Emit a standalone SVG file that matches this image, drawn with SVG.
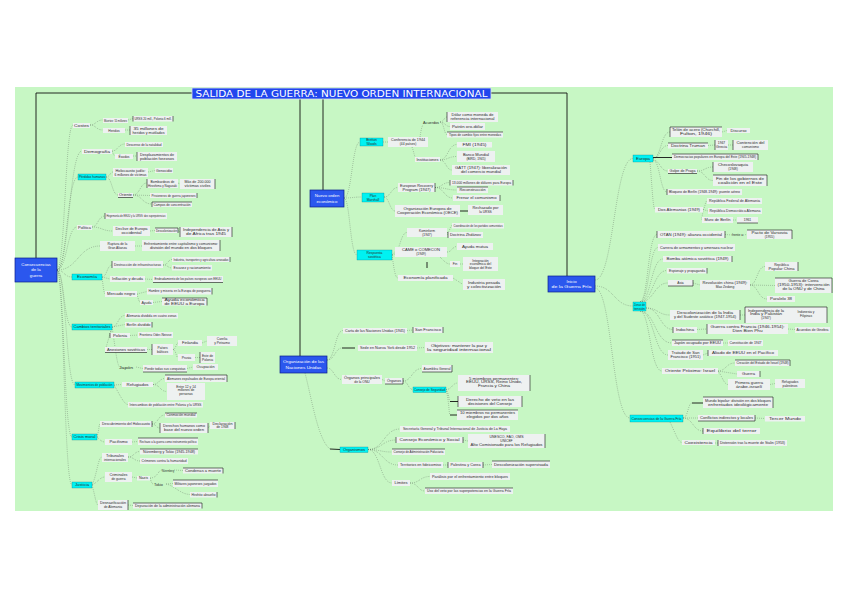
<svg xmlns="http://www.w3.org/2000/svg" width="848" height="599" viewBox="0 0 848 599">
<style>
.t{font-family:"Liberation Sans",Arial,sans-serif;font-size:3.3px;fill:#2a2a2a;text-anchor:middle}
.lb{font-family:"Liberation Sans",Arial,sans-serif;font-size:3.3px;fill:#2a2a2a}
.l{fill:#eef1f1}
.c{fill:#00f2f2;stroke:#078;stroke-width:.3}
.b{fill:#2b57ee;stroke:#0b1f8a;stroke-width:.7}
.bt{font-family:"Liberation Sans",Arial,sans-serif;font-size:4.3px;fill:#fff;text-anchor:middle}
.d{fill:none;stroke:#6a7a6a;stroke-width:.6;stroke-dasharray:.7 1.3}
.s{fill:none;stroke:#111;stroke-width:.9}
.k{fill:none;stroke:#111;stroke-width:.6}
</style>
<rect x="0" y="0" width="848" height="599" fill="#fff"/>
<rect x="15" y="87" width="818" height="424" fill="#c7f7c4"/>
<g id="connectors">
<path class="s" d="M36 93H192M491 93H567M36 93V258M300 99V356M323 99V190M567 93V276"/>
<path class="d" d="M57 270C65 270 65 125 73 125M57 270C69 270 69 151 82 151M57 270C67 270 67 177 78 177M57 270C67 270 67 227 77 227M57 270C78 270 78 246 100 246M57 270C64 270 64 277 72 277M57 270C64 270 64 327 72 327M57 270C66 270 66 385 75 385M57 270C64 270 64 437 72 437M57 270C64 270 64 485 72 485"/>
<path class="d" d="M90 125C96 125 96 120 103 120M90 125C96 125 96 130 103 130M128 120L133 118.5M125 130L130 130M112 151C118 151 118 144 125 144M112 151C113 153 114 156 115 156M133 156L137 156M106 177C110 177 110 172 113 172M106 177C112 177 112 195 118 195M148 172L155 170.5M133 195C140 195 140 183 147 183M133 195L150 195.5M133 195C142 195 142 204 152 204M178 183L180 184M92 227C98 227 98 216 105 216M92 227C102 227 102 231 113 231M150 231L155 230.5M178 230.5L180 232M135 246L142 246"/>
<path class="d" d="M102 277C107 277 107 265 112 265M102 277L110 279M102 277C103 285 104 294 105 294M163 265C168 265 168 259.5 172 259.5M163 265C168 265 168 268 172 268M145 279L153 279.5M137 294L147 291.5M137 294C138 298 139 302 140 302M153 302.5L162 301.5M112 327C118 327 118 315.5 125 315.5M112 327L125 324.5M112 327C111 331 110 335 110 335.5M112 327C108 340 106 349 105 349.5M130 335.5L138 335M147 349.5L152 349.5M173 349.5C176 349.5 176 343 178 343M173 349.5C176 349.5 176 357.5 178 357.5M202 343L207 341M195 357.5L200 357.5M112 327C115 345 117 367 120 367M136 367L143 368.5M187 368.5L193 367"/>
<path class="d" d="M114 385L122 384.5M114 385C120 395 124 404.5 128 404.5M153 384.5C159 384.5 159 378.5 165 378.5M153 384.5C160 384.5 160 391.5 167 391.5M97 437C99 430 99 424 100 424M97 437C100 440 102 442 105 442M152 424C158 424 158 415 165 415M152 424C156 424 156 428 160 428M208 428L210 425.5M132 442L138 441.5M92 485C97 475 98 457 102 457M92 485C98 482 100 477 105 477M92 485C95 495 96 505 98 505M128 457C134 457 134 451.5 140 451.5M128 457C134 457 134 461 140 461M132 477L137 478M150 478C158 478 158 470 162 470M150 478C151 481 152 484 153 484M174 470L183 470.5M166 484L173 483.5M166 484C175 486 180 494 190 494.5M128 505L133 505.5"/>
<path class="d" d="M344 198C352 198 352 142 360 142M344 198C353 198 353 197 362 197M344 198C350 198 350 255 357 255M383 142L388 142M420 137C421 130 422 126 423 125M440 122C444 122 444 117 447 117M440 122C445 122 445 126.5 450 126.5M440 122C444 122 444 134.5 447 134.5M412 147C414 152 414 156 416 158M440 160C448 160 448 144.5 457 144.5M440 160C448 160 448 156.5 457 156.5M440 160C446 160 446 170 452 170M384 197C391 197 391 187.5 398 187.5M384 197C389 197 390 211 395 211M435 187.5C442 187.5 442 182.5 450 182.5M435 187.5C446 187.5 446 190 457 190M435 187.5C444 187.5 444 198 453 198"/>
<path class="s" d="M460 211L468 211M427 262V268"/>
<path class="d" d="M392 255C400 255 400 232.5 407 232.5M392 255C394 253 394 252 395 252M392 255C394 268 395 278 398 278M447 232.5C450 232.5 450 225.5 452 225.5M447 232.5L448 235M447 252C452 252 452 246.5 457 246.5M440 257C445 262 447 264 450 264M460 264L463 264M453 278L463 284.5"/>
<path class="d" d="M327 360C335 360 335 330.5 343 330.5M327 360C335 360 335 348 342 348M327 368C334 368 334 379.5 342 379.5M305 373C312 400 318 440 330 449M407 330.5L413 330M417 348L425 347.5M382 379.5L385 381M403 381C412 381 412 368.5 422 368.5M403 381C408 381 408 389.5 413 389.5M446 389.5C452 389.5 452 383 458 383M446 389.5C449 393 449 401.5 450 401.5M446 389.5C449 400 449 415 450 415"/>
<path class="s" d="M342 348L355 348M450 401.5L458 401.5M450 415L457 415M330 449L340 449.5M358 449.5L366 449.5"/>
<path class="d" d="M368 449.5C384 449.5 384 429 400 429M368 449.5C382 449.5 382 440 396 440M368 449.5C380 449.5 380 452 392 452M368 449.5C383 449.5 383 465 398 465M368 449.5C380 449.5 380 483 392 483M463 440L468 441M443 465L448 465M483 465L492 464.5M410 483C420 483 420 476.5 430 476.5M410 483C418 483 418 491 425 491"/>
<path class="d" d="M595 280C614 280 614 158.5 633 158.5M595 286C614 286 614 306 633 306M595 288C612 288 612 418 630 418"/>
<path class="d" d="M653 158.5C661 158.5 661 132 670 132M653 158.5C660 158.5 660 145.5 668 145.5M653 160C660 160 660 171 668 171M653 160C660 160 660 192 667 192M650 162C652 185 653 209.5 655 209.5M722 132L727 130.5M708 145.5L715 145M728 145L733 145M697 171C705 171 705 167 713 167M697 171C705 171 705 180.5 713 180.5M703 209.5C705 209.5 705 201 707 201M703 209.5L708 211M703 209.5C703 214 701 220 702 220M733 220L737 220"/>
<path class="s" d="M653 157.5L672 157.5M692 403L703 403"/>
<path class="d" d="M640 302C648 302 648 234.5 657 234.5M640 302C649 302 649 247.5 658 247.5M640 302C651 302 651 259 663 259M640 302C653 302 653 270.5 667 270.5M640 302C654 302 654 283 668 283M646 308C658 308 658 315 670 315M646 308C660 308 660 329.5 673 329.5M640 311C655 311 655 343 672 343M640 311C654 311 654 355 668 355M640 311C650 311 650 371 662 371M725 234.5L732 235M743 235L747 234.5M693 283L700 285M750 285C757 285 757 266.5 765 266.5M750 285L775 285.5M750 285C758 285 758 299 767 299M740 315L745 315M697 329.5L707 329M788 329L795 329.5M723 343L728 343M703 355L708 353M718 371C726 371 726 363 735 363M718 371L737 374M718 371C722 376 724 384.5 728 384.5M770 384.5L775 383.5"/>
<path class="d" d="M683 418C688 418 688 403 692 403M683 418L698 418M683 418C693 418 693 431 703 431M670 422C675 432 678 442.5 682 442.5M755 418L765 418.5M715 443L718 443"/>
</g>
<g id="title"><rect x="192" y="88" width="299" height="11" fill="#2146ee" stroke="#dde" stroke-width=".8"/><text x="341.5" y="97" font-family="DejaVu Sans,sans-serif" font-size="9" fill="#fff" text-anchor="middle" textLength="292" lengthAdjust="spacingAndGlyphs">SALIDA DE LA GUERRA: NUEVO ORDEN INTERNACIONAL</text></g>
<g id="n-left"><rect class="b" x="15" y="258" width="42" height="24"/><text class="bt" x="36" y="265.5">Consecuencias</text><text class="bt" x="36" y="271">de la</text><text class="bt" x="36" y="276.5">guerra</text></g>
<g id="P1"><rect class="l" x="73" y="123" width="17" height="5"/><text class="t" x="81.5" y="126.6" textLength="15" lengthAdjust="spacingAndGlyphs">Costes</text></g>
<g id="P2"><rect class="l" x="82" y="149" width="30" height="5"/><text class="t" x="97" y="152.6" textLength="26" lengthAdjust="spacingAndGlyphs">Demografía</text></g>
<g id="P3"><rect class="l" x="77" y="225" width="15" height="5"/><text class="t" x="84.5" y="228.6" textLength="13" lengthAdjust="spacingAndGlyphs">Política</text></g>
<g id="P4"><rect class="l" x="100" y="241" width="35" height="10"/><text class="t" x="117.5" y="245.3">Ruptura de la</text><text class="t" x="117.5" y="249.1">Gran Alianza</text></g>
<g id="CL1"><rect class="c" x="78" y="174" width="28" height="6"/><text class="t" x="92" y="178.1" textLength="26" lengthAdjust="spacingAndGlyphs">Pérdidas humanas</text></g>
<g id="CL2"><rect class="c" x="72" y="274" width="30" height="6"/><text class="t" x="87" y="278.1" textLength="20" lengthAdjust="spacingAndGlyphs">Economía</text></g>
<g id="CL3"><rect class="c" x="72" y="324" width="40" height="6"/><text class="t" x="92" y="328.1" textLength="37" lengthAdjust="spacingAndGlyphs">Cambios territoriales</text></g>
<g id="CL4"><rect class="c" x="75" y="382" width="39" height="6"/><text class="t" x="94.5" y="386.1" textLength="36" lengthAdjust="spacingAndGlyphs">Movimientos de población</text></g>
<g id="CL5"><rect class="c" x="72" y="434" width="25" height="6"/><text class="t" x="84.5" y="438.1" textLength="22" lengthAdjust="spacingAndGlyphs">Crisis moral</text></g>
<g id="CL6"><rect class="c" x="72" y="482" width="20" height="6"/><text class="t" x="82" y="486.1" textLength="14" lengthAdjust="spacingAndGlyphs">Justicia</text></g>
<g id="lb1"><rect class="l" x="103" y="118" width="25" height="5"/><text class="t" x="115.5" y="121.6" textLength="23" lengthAdjust="spacingAndGlyphs">Muertos: 55 millones</text></g>
<g id="lb2"><rect class="l" x="133" y="116" width="40" height="5.5"/><path class="k" d="M173 116V121.5M133 116V121.5"/><text class="t" x="153" y="119.9" textLength="37" lengthAdjust="spacingAndGlyphs">URSS 20 mill., Polonia 6 mill.</text></g>
<g id="lb3"><rect class="l" x="103" y="128" width="22" height="5"/><text class="t" x="114" y="131.6">Heridos</text></g>
<g id="lb4"><rect class="l" x="130" y="126" width="37" height="9"/><path class="k" d="M130 126V135"/><text class="t" x="148.5" y="129.8" textLength="30" lengthAdjust="spacingAndGlyphs">35 millones de</text><text class="t" x="148.5" y="133.6" textLength="32" lengthAdjust="spacingAndGlyphs">heridos y mutilados</text></g>
<g id="lb5"><rect class="l" x="125" y="142" width="38" height="5"/><text class="t" x="144" y="145.6" textLength="35" lengthAdjust="spacingAndGlyphs">Descenso de la natalidad</text></g>
<g id="lb6"><rect class="l" x="115" y="154" width="18" height="5"/><text class="t" x="124" y="157.6">Éxodos</text></g>
<g id="lb7"><rect class="l" x="137" y="152" width="40" height="9"/><path class="k" d="M137 152V161"/><text class="t" x="157" y="155.8" textLength="34" lengthAdjust="spacingAndGlyphs">Desplazamientos de</text><text class="t" x="157" y="159.6" textLength="34" lengthAdjust="spacingAndGlyphs">población forzosos</text></g>
<g id="lb8"><rect class="l" x="113" y="168" width="35" height="9"/><text class="t" x="130.5" y="171.8" textLength="30" lengthAdjust="spacingAndGlyphs">Holocausto judío:</text><text class="t" x="130.5" y="175.6" textLength="32" lengthAdjust="spacingAndGlyphs">6 millones de víctimas</text></g>
<g id="lb9"><rect class="l" x="155" y="168" width="18" height="5"/><text class="t" x="164" y="171.6" textLength="16" lengthAdjust="spacingAndGlyphs">Genocidio</text></g>
<g id="lb10"><rect class="l" x="118" y="193" width="15" height="4.5"/><path class="k" d="M118 197.5H133"/><text class="t" x="125.5" y="196.4" textLength="13" lengthAdjust="spacingAndGlyphs">Oriente</text></g>
<g id="lb11"><rect class="l" x="147" y="179" width="31" height="9"/><path class="k" d="M147 179V188"/><text class="t" x="162.5" y="182.8" textLength="24" lengthAdjust="spacingAndGlyphs">Bombardeos de</text><text class="t" x="162.5" y="186.6" textLength="29" lengthAdjust="spacingAndGlyphs">Hiroshima y Nagasaki</text></g>
<g id="lb12"><rect class="l" x="180" y="179" width="35" height="10"/><path class="k" d="M215 179V189"/><text class="t" x="197.5" y="183.3" textLength="26" lengthAdjust="spacingAndGlyphs">Más de 200.000</text><text class="t" x="197.5" y="187.1" textLength="26" lengthAdjust="spacingAndGlyphs">víctimas civiles</text></g>
<g id="lb13"><rect class="l" x="150" y="193" width="47" height="5"/><path class="k" d="M197 193V198"/><text class="t" x="173.5" y="196.6" textLength="44" lengthAdjust="spacingAndGlyphs">Prisioneros de guerra japoneses</text></g>
<g id="lb14"><rect class="l" x="152" y="202" width="40" height="5"/><path class="k" d="M152 202H192M152 202V207"/><text class="t" x="172" y="205.6" textLength="37" lengthAdjust="spacingAndGlyphs">Campos de concentración</text></g>
<g id="lp1"><rect class="l" x="105" y="213" width="62" height="6"/><path class="k" d="M105 213V219"/><text class="t" x="136" y="217.1" textLength="59" lengthAdjust="spacingAndGlyphs">Hegemonía de EEUU y la URSS: dos superpotencias</text></g>
<g id="lp2"><rect class="l" x="113" y="226" width="37" height="10"/><text class="t" x="131.5" y="230.3" textLength="32" lengthAdjust="spacingAndGlyphs">Declive de Europa</text><text class="t" x="131.5" y="234.1" textLength="20" lengthAdjust="spacingAndGlyphs">occidental</text></g>
<g id="lp3"><rect class="l" x="155" y="228" width="23" height="5"/><path class="k" d="M155 228H178V233"/><text class="t" x="166.5" y="231.6" textLength="21" lengthAdjust="spacingAndGlyphs">Descolonización</text></g>
<g id="lp4"><rect class="l" x="180" y="227" width="52" height="10"/><path class="k" d="M180 227V237M232 227V237"/><text class="t" x="206" y="231.3" textLength="46" lengthAdjust="spacingAndGlyphs">Independencia de Asia y</text><text class="t" x="206" y="235.1" textLength="40" lengthAdjust="spacingAndGlyphs">de África tras 1945</text></g>
<g id="lp5"><rect class="l" x="142" y="240" width="78" height="11"/><path class="k" d="M220 240V251"/><text class="t" x="181" y="244.8" textLength="74" lengthAdjust="spacingAndGlyphs">Enfrentamiento entre capitalismo y comunismo:</text><text class="t" x="181" y="248.6" textLength="62" lengthAdjust="spacingAndGlyphs">división del mundo en dos bloques</text></g>
<g id="le1"><rect class="l" x="112" y="261" width="51" height="7"/><path class="k" d="M112 261V268"/><text class="t" x="137.5" y="265.6" textLength="47" lengthAdjust="spacingAndGlyphs">Destrucción de infraestructuras</text></g>
<g id="le2"><rect class="l" x="172" y="257" width="58" height="5"/><path class="k" d="M230 257V262"/><text class="t" x="201" y="260.6" textLength="55" lengthAdjust="spacingAndGlyphs">Industria, transportes y agricultura arrasadas</text></g>
<g id="le3"><rect class="l" x="172" y="265" width="40" height="5.5"/><text class="t" x="192" y="268.9" textLength="37" lengthAdjust="spacingAndGlyphs">Escasez y racionamiento</text></g>
<g id="le4"><rect class="l" x="110" y="276" width="35" height="6"/><text class="t" x="127.5" y="280.1" textLength="31" lengthAdjust="spacingAndGlyphs">Inflación y deuda</text></g>
<g id="le5"><rect class="l" x="153" y="276" width="70" height="6.5"/><path class="k" d="M153 282.5H223"/><text class="t" x="188" y="280.4" textLength="67" lengthAdjust="spacingAndGlyphs">Endeudamiento de los países europeos con EEUU</text></g>
<g id="le6"><rect class="l" x="105" y="291" width="32" height="6"/><text class="t" x="121" y="295.1" textLength="28" lengthAdjust="spacingAndGlyphs">Mercado negro</text></g>
<g id="le7"><rect class="l" x="147" y="288" width="65" height="6.5"/><path class="k" d="M212 288V294.5"/><text class="t" x="179.5" y="292.4" textLength="62" lengthAdjust="spacingAndGlyphs">Hambre y miseria en la Europa de posguerra</text></g>
<g id="le8"><rect class="l" x="140" y="300" width="13" height="5"/><text class="t" x="146.5" y="303.6" textLength="10" lengthAdjust="spacingAndGlyphs">Ayuda</text></g>
<g id="le9"><rect class="l" x="162" y="298" width="45" height="7.5"/><path class="k" d="M162 298H207V305.5"/><text class="t" x="184.5" y="301.1" textLength="40" lengthAdjust="spacingAndGlyphs">Ayuda económica</text><text class="t" x="184.5" y="304.9" textLength="40" lengthAdjust="spacingAndGlyphs">de EEUU a Europa</text></g>
<g id="lt1"><rect class="l" x="125" y="313" width="53" height="5.5"/><text class="t" x="151.5" y="316.9" textLength="50" lengthAdjust="spacingAndGlyphs">Alemania dividida en cuatro zonas</text></g>
<g id="lt2"><rect class="l" x="125" y="322" width="27" height="5.5"/><path class="k" d="M152 322V327.5"/><text class="t" x="138.5" y="325.9" textLength="24" lengthAdjust="spacingAndGlyphs">Berlín dividido</text></g>
<g id="lt3"><rect class="l" x="110" y="333" width="20" height="5"/><path class="k" d="M110 333V338"/><text class="t" x="120" y="336.6" textLength="14" lengthAdjust="spacingAndGlyphs">Polonia</text></g>
<g id="lt4"><rect class="l" x="138" y="332" width="35" height="6"/><text class="t" x="155.5" y="336.1" textLength="32" lengthAdjust="spacingAndGlyphs">Frontera Oder-Neisse</text></g>
<g id="lt5"><rect class="l" x="105" y="347" width="42" height="5.5"/><path class="k" d="M105 352.5H147"/><text class="t" x="126" y="350.9" textLength="38" lengthAdjust="spacingAndGlyphs">Anexiones soviéticas</text></g>
<g id="lt6"><rect class="l" x="152" y="344" width="21" height="11"/><path class="k" d="M152 344V355"/><text class="t" x="162.5" y="348.8">Países</text><text class="t" x="162.5" y="352.6">bálticos</text></g>
<g id="lt7"><rect class="l" x="178" y="340" width="24" height="6"/><text class="t" x="190" y="344.1" textLength="16" lengthAdjust="spacingAndGlyphs">Finlandia</text></g>
<g id="lt8"><rect class="l" x="207" y="336" width="30" height="10"/><text class="t" x="222" y="340.3">Carelia</text><text class="t" x="222" y="344.1">y Petsamo</text></g>
<g id="lt9"><rect class="l" x="178" y="354" width="17" height="7"/><text class="t" x="186.5" y="358.6">Prusia</text></g>
<g id="lt10"><rect class="l" x="200" y="352" width="15" height="11"/><path class="k" d="M200 352V363"/><text class="t" x="207.5" y="356.8">Este de</text><text class="t" x="207.5" y="360.6">Polonia</text></g>
<g id="lt-jp"><text class="lb" x="119" y="368.5" textLength="14" lengthAdjust="spacingAndGlyphs">Japón</text></g>
<g id="lt11"><rect class="l" x="143" y="365" width="44" height="7"/><path class="k" d="M143 372H187"/><text class="t" x="165" y="369.6" textLength="41" lengthAdjust="spacingAndGlyphs">Pierde todas sus conquistas</text></g>
<g id="lt12"><rect class="l" x="193" y="364" width="25" height="6"/><text class="t" x="205.5" y="368.1" textLength="18" lengthAdjust="spacingAndGlyphs">Ocupación</text></g>
<g id="lm1"><rect class="l" x="122" y="382" width="31" height="5"/><text class="t" x="137.5" y="385.6" textLength="22" lengthAdjust="spacingAndGlyphs">Refugiados</text></g>
<g id="lm2"><rect class="l" x="165" y="375" width="62" height="7"/><path class="k" d="M165 375H227V382"/><text class="t" x="196" y="379.6" textLength="58" lengthAdjust="spacingAndGlyphs">Alemanes expulsados de Europa oriental</text></g>
<g id="lm3"><rect class="l" x="167" y="383" width="38" height="17"/><text class="t" x="186" y="387.5">Entre 12 y 14</text><text class="t" x="186" y="391.3">millones de</text><text class="t" x="186" y="395.1">personas</text></g>
<g id="lm4"><rect class="l" x="128" y="402" width="75" height="5.5"/><text class="t" x="165.5" y="405.9" textLength="72" lengthAdjust="spacingAndGlyphs">Intercambios de población entre Polonia y la URSS</text></g>
<g id="lc1"><rect class="l" x="100" y="421" width="52" height="6"/><path class="k" d="M152 421V427"/><text class="t" x="126" y="425.1" textLength="48" lengthAdjust="spacingAndGlyphs">Descubrimiento del Holocausto</text></g>
<g id="lc2"><rect class="l" x="165" y="413" width="32" height="4.5"/><path class="k" d="M165 413H197"/><text class="t" x="181" y="416.4" textLength="29" lengthAdjust="spacingAndGlyphs">Conmoción mundial</text></g>
<g id="lc3"><rect class="l" x="160" y="423" width="48" height="10"/><path class="k" d="M160 423V433M208 423V433"/><text class="t" x="184" y="427.3" textLength="42" lengthAdjust="spacingAndGlyphs">Derechos humanos como</text><text class="t" x="184" y="431.1" textLength="40" lengthAdjust="spacingAndGlyphs">base del nuevo orden</text></g>
<g id="lc4"><rect class="l" x="210" y="422" width="25" height="7"/><path class="k" d="M235 422V429"/><text class="t" x="222.5" y="424.8" textLength="20" lengthAdjust="spacingAndGlyphs">Declaración</text><text class="t" x="222.5" y="428.3">de 1948</text></g>
<g id="lc5"><rect class="l" x="105" y="439" width="27" height="6"/><text class="t" x="118.5" y="443.1" textLength="18" lengthAdjust="spacingAndGlyphs">Pacifismo</text></g>
<g id="lc6"><rect class="l" x="138" y="438" width="60" height="7"/><path class="k" d="M138 438H198"/><text class="t" x="168" y="442.6" textLength="57" lengthAdjust="spacingAndGlyphs">Rechazo a la guerra como instrumento político</text></g>
<g id="lj1"><rect class="l" x="102" y="453" width="26" height="9"/><text class="t" x="115" y="456.8" textLength="18" lengthAdjust="spacingAndGlyphs">Tribunales</text><text class="t" x="115" y="460.6" textLength="22" lengthAdjust="spacingAndGlyphs">internacionales</text></g>
<g id="lj2"><rect class="l" x="140" y="449" width="58" height="5.5"/><path class="k" d="M140 449H198"/><text class="t" x="169" y="452.9" textLength="52" lengthAdjust="spacingAndGlyphs">Núremberg y Tokio (1945-1948)</text></g>
<g id="lj3"><rect class="l" x="140" y="458" width="48" height="6"/><text class="t" x="164" y="462.1" textLength="45" lengthAdjust="spacingAndGlyphs">Crímenes contra la humanidad</text></g>
<g id="lj4"><rect class="l" x="105" y="472" width="27" height="10"/><text class="t" x="118.5" y="476.3" textLength="18" lengthAdjust="spacingAndGlyphs">Criminales</text><text class="t" x="118.5" y="480.1">de guerra</text></g>
<g id="lj5"><rect class="l" x="137" y="476" width="13" height="4.5"/><text class="t" x="143.5" y="479.4" textLength="9" lengthAdjust="spacingAndGlyphs">Nazis</text></g>
<g id="lj-nu"><text class="lb" x="162" y="471.5" textLength="12" lengthAdjust="spacingAndGlyphs">Núremberg</text></g>
<g id="lj6"><rect class="l" x="183" y="468" width="40" height="5.5"/><path class="k" d="M183 468H223V473.5"/><text class="t" x="203" y="471.9" textLength="36" lengthAdjust="spacingAndGlyphs">Condenas a muerte</text></g>
<g id="lj-to"><text class="lb" x="154" y="486" textLength="9" lengthAdjust="spacingAndGlyphs">Tokio</text></g>
<g id="lj7"><rect class="l" x="173" y="480" width="45" height="7"/><path class="k" d="M173 480H218"/><text class="t" x="195.5" y="484.6" textLength="42" lengthAdjust="spacingAndGlyphs">Militares japoneses juzgados</text></g>
<g id="lj8"><rect class="l" x="190" y="492" width="27" height="5.5"/><path class="k" d="M217 492V497.5"/><text class="t" x="203.5" y="495.9" textLength="24" lengthAdjust="spacingAndGlyphs">Hirohito absuelto</text></g>
<g id="lj9"><rect class="l" x="98" y="500" width="30" height="10"/><path class="k" d="M128 500V510"/><text class="t" x="113" y="504.3" textLength="26" lengthAdjust="spacingAndGlyphs">Desnazificación</text><text class="t" x="113" y="508.1">de Alemania</text></g>
<g id="lj10"><rect class="l" x="133" y="503" width="69" height="5.5"/><path class="k" d="M133 503H202V508.5"/><text class="t" x="167.5" y="506.9" textLength="65" lengthAdjust="spacingAndGlyphs">Depuración de la administración alemana</text></g>
<g id="n-econ"><rect class="b" x="310" y="190" width="34" height="17"/><text class="bt" x="327" y="197">Nuevo orden</text><text class="bt" x="327" y="202.5">económico</text></g>
<g id="cB"><rect class="c" x="360" y="138" width="23" height="8"/><text class="t" x="371.5" y="141.4">Bretton</text><text class="t" x="371.5" y="145.2">Woods</text></g>
<g id="mt1"><rect class="l" x="388" y="137" width="40" height="10"/><text class="t" x="408" y="141.3" textLength="34" lengthAdjust="spacingAndGlyphs">Conferencia de 1944</text><text class="t" x="408" y="145.1">(44 países)</text></g>
<g id="mt-ac"><text class="lb" x="423" y="123.5" textLength="16" lengthAdjust="spacingAndGlyphs">Acuerdos</text></g>
<g id="mt2"><rect class="l" x="447" y="112" width="51" height="10"/><path class="k" d="M447 112V122"/><text class="t" x="472.5" y="116.3" textLength="42" lengthAdjust="spacingAndGlyphs">Dólar como moneda de</text><text class="t" x="472.5" y="120.1" textLength="44" lengthAdjust="spacingAndGlyphs">referencia internacional</text></g>
<g id="mt3"><rect class="l" x="450" y="123" width="35" height="7"/><text class="t" x="467.5" y="127.6" textLength="31" lengthAdjust="spacingAndGlyphs">Patrón oro-dólar</text></g>
<g id="mt4"><rect class="l" x="447" y="132" width="56" height="5.5"/><path class="k" d="M447 132H503"/><text class="t" x="475" y="135.9" textLength="52" lengthAdjust="spacingAndGlyphs">Tipos de cambio fijos entre monedas</text></g>
<g id="mt-in"><rect class="l" x="415" y="157" width="25" height="5"/><text class="t" x="427.5" y="160.6" textLength="22" lengthAdjust="spacingAndGlyphs">Instituciones</text></g>
<g id="mt5"><rect class="l" x="457" y="142" width="35" height="5.5"/><text class="t" x="474.5" y="145.9" textLength="24" lengthAdjust="spacingAndGlyphs">FMI (1945)</text></g>
<g id="mt6"><rect class="l" x="457" y="151" width="38" height="11"/><text class="t" x="476" y="155.8" textLength="26" lengthAdjust="spacingAndGlyphs">Banco Mundial</text><text class="t" x="476" y="159.6">(BIRD, 1945)</text></g>
<g id="mt7"><rect class="l" x="452" y="165" width="58" height="10"/><text class="t" x="481" y="169.3" textLength="52" lengthAdjust="spacingAndGlyphs">GATT (1947): liberalización</text><text class="t" x="481" y="173.1" textLength="40" lengthAdjust="spacingAndGlyphs">del comercio mundial</text></g>
<g id="cP"><rect class="c" x="362" y="193" width="22" height="9"/><text class="t" x="373" y="196.8">Plan</text><text class="t" x="373" y="200.6">Marshall</text></g>
<g id="mt8"><rect class="l" x="398" y="183" width="37" height="9"/><path class="k" d="M435 183V192"/><text class="t" x="416.5" y="186.8" textLength="33" lengthAdjust="spacingAndGlyphs">European Recovery</text><text class="t" x="416.5" y="190.6" textLength="28" lengthAdjust="spacingAndGlyphs">Program (1947)</text></g>
<g id="mt9"><rect class="l" x="450" y="180" width="63" height="5.5"/><path class="k" d="M450 180V185.5M513 180V185.5"/><text class="t" x="481.5" y="183.9" textLength="59" lengthAdjust="spacingAndGlyphs">13.000 millones de dólares para Europa</text></g>
<g id="mt10"><rect class="l" x="457" y="187" width="31" height="6"/><path class="k" d="M457 187H488"/><text class="t" x="472.5" y="191.1" textLength="26" lengthAdjust="spacingAndGlyphs">Reconstrucción</text></g>
<g id="mt11"><rect class="l" x="453" y="195" width="47" height="6"/><path class="k" d="M500 195V201"/><text class="t" x="476.5" y="199.1" textLength="40" lengthAdjust="spacingAndGlyphs">Frenar el comunismo</text></g>
<g id="mt12"><rect class="l" x="395" y="205" width="65" height="12"/><text class="t" x="427.5" y="209.8" textLength="48" lengthAdjust="spacingAndGlyphs">Organización Europea de</text><text class="t" x="427.5" y="213.6" textLength="61" lengthAdjust="spacingAndGlyphs">Cooperación Económica (OECE)</text></g>
<g id="mt13"><rect class="l" x="468" y="205" width="35" height="10"/><text class="t" x="485.5" y="209.3" textLength="26" lengthAdjust="spacingAndGlyphs">Rechazado por</text><text class="t" x="485.5" y="213.1">la URSS</text></g>
<g id="cR"><rect class="c" x="357" y="250" width="35" height="10"/><text class="t" x="374.5" y="254.3">Respuesta</text><text class="t" x="374.5" y="258.1">soviética</text></g>
<g id="mt14"><rect class="l" x="407" y="228" width="40" height="9"/><text class="t" x="427" y="231.8">Kominform</text><text class="t" x="427" y="235.6">(1947)</text></g>
<g id="mt15"><rect class="l" x="452" y="223" width="52" height="5.5"/><text class="t" x="478" y="226.9" textLength="49" lengthAdjust="spacingAndGlyphs">Coordinación de los partidos comunistas</text></g>
<g id="mt16"><rect class="l" x="448" y="232" width="35" height="6"/><path class="k" d="M448 232V238"/><text class="t" x="465.5" y="236.1" textLength="31" lengthAdjust="spacingAndGlyphs">Doctrina Zhdánov</text></g>
<g id="mt17"><rect class="l" x="395" y="247" width="52" height="10"/><text class="t" x="421" y="251.3" textLength="38" lengthAdjust="spacingAndGlyphs">CAME o COMECON</text><text class="t" x="421" y="255.1">(1949)</text></g>
<g id="mt18"><rect class="l" x="457" y="243" width="36" height="7"/><text class="t" x="475" y="247.6" textLength="26" lengthAdjust="spacingAndGlyphs">Ayuda mutua</text></g>
<g id="mt19"><rect class="l" x="450" y="261" width="10" height="6"/><text class="t" x="455" y="265.1">Fin</text></g>
<g id="mt20"><rect class="l" x="463" y="257" width="35" height="14"/><text class="t" x="480.5" y="261.5">Integración</text><text class="t" x="480.5" y="265.3">económica del</text><text class="t" x="480.5" y="269.1">bloque del Este</text></g>
<g id="mt21"><rect class="l" x="398" y="275" width="55" height="6"/><text class="t" x="425.5" y="279.1" textLength="44" lengthAdjust="spacingAndGlyphs">Economía planificada</text></g>
<g id="mt22"><rect class="l" x="463" y="279" width="42" height="11"/><text class="t" x="484" y="283.8" textLength="32" lengthAdjust="spacingAndGlyphs">Industria pesada</text><text class="t" x="484" y="287.6" textLength="34" lengthAdjust="spacingAndGlyphs">y colectivización</text></g>
<g id="n-onu"><rect class="b" x="280" y="356" width="47" height="17"/><text class="bt" x="303.5" y="363" textLength="41" lengthAdjust="spacingAndGlyphs">Organización de las</text><text class="bt" x="303.5" y="368.5" textLength="36" lengthAdjust="spacingAndGlyphs">Naciones Unidas</text></g>
<g id="mb1"><rect class="l" x="343" y="328" width="64" height="5.5"/><text class="t" x="375" y="331.9" textLength="60" lengthAdjust="spacingAndGlyphs">Carta de las Naciones Unidas (1945)</text></g>
<g id="mb2"><rect class="l" x="413" y="327" width="30" height="6"/><path class="k" d="M413 327V333M443 327V333"/><text class="t" x="428" y="331.1" textLength="26" lengthAdjust="spacingAndGlyphs">San Francisco</text></g>
<g id="mb3"><rect class="l" x="358" y="345" width="59" height="6"/><text class="t" x="387.5" y="349.1" textLength="55" lengthAdjust="spacingAndGlyphs">Sede en Nueva York desde 1952</text></g>
<g id="mb4"><rect class="l" x="425" y="342" width="68" height="11"/><text class="t" x="459" y="346.8" textLength="56" lengthAdjust="spacingAndGlyphs">Objetivos: mantener la paz y</text><text class="t" x="459" y="350.6" textLength="64" lengthAdjust="spacingAndGlyphs">la seguridad internacional</text></g>
<g id="mb5"><rect class="l" x="342" y="375" width="40" height="9"/><text class="t" x="362" y="378.8" textLength="36" lengthAdjust="spacingAndGlyphs">Órganos principales</text><text class="t" x="362" y="382.6">de la ONU</text></g>
<g id="mb6"><rect class="l" x="385" y="378" width="18" height="6"/><path class="k" d="M385 384H403V378"/><text class="t" x="394" y="382.1" textLength="14" lengthAdjust="spacingAndGlyphs">Órganos</text></g>
<g id="mb7"><rect class="l" x="422" y="365" width="30" height="7"/><path class="k" d="M422 372H452V365"/><text class="t" x="437" y="369.6" textLength="27" lengthAdjust="spacingAndGlyphs">Asamblea General</text></g>
<g id="cS"><rect class="c" x="413" y="387" width="33" height="5.5"/><text class="t" x="429.5" y="390.9" textLength="31" lengthAdjust="spacingAndGlyphs">Consejo de Seguridad</text></g>
<g id="mb8"><rect class="l" x="458" y="375" width="72" height="16"/><path class="k" d="M530 375V391"/><text class="t" x="494" y="379.5" textLength="50" lengthAdjust="spacingAndGlyphs">5 miembros permanentes:</text><text class="t" x="494" y="383.3" textLength="56" lengthAdjust="spacingAndGlyphs">EEUU, URSS, Reino Unido,</text><text class="t" x="494" y="387.1" textLength="32" lengthAdjust="spacingAndGlyphs">Francia y China</text></g>
<g id="mb9"><rect class="l" x="458" y="396" width="64" height="11"/><path class="k" d="M458 396V407M522 396V407"/><text class="t" x="490" y="400.8" textLength="48" lengthAdjust="spacingAndGlyphs">Derecho de veto en las</text><text class="t" x="490" y="404.6" textLength="44" lengthAdjust="spacingAndGlyphs">decisiones del Consejo</text></g>
<g id="mb10"><rect class="l" x="457" y="410" width="61" height="10"/><path class="k" d="M457 410H518"/><text class="t" x="487.5" y="414.3" textLength="55" lengthAdjust="spacingAndGlyphs">10 miembros no permanentes</text><text class="t" x="487.5" y="418.1" textLength="42" lengthAdjust="spacingAndGlyphs">elegidos por dos años</text></g>
<g id="cO"><rect class="c" x="340" y="447" width="28" height="5.5"/><text class="t" x="354" y="450.9" textLength="22" lengthAdjust="spacingAndGlyphs">Organismos</text></g>
<g id="mb11"><rect class="l" x="400" y="426" width="110" height="6"/><text class="t" x="455" y="430.1" textLength="104" lengthAdjust="spacingAndGlyphs">Secretaría General y Tribunal Internacional de Justicia de La Haya</text></g>
<g id="mb12"><rect class="l" x="396" y="437" width="67" height="6"/><path class="k" d="M396 437V443M463 437V443"/><text class="t" x="429.5" y="441.1" textLength="60" lengthAdjust="spacingAndGlyphs">Consejo Económico y Social</text></g>
<g id="mb13"><rect class="l" x="468" y="434" width="77" height="14"/><path class="k" d="M545 434V448"/><text class="t" x="506.5" y="438.2" textLength="34" lengthAdjust="spacingAndGlyphs">UNESCO, FAO, OMS</text><text class="t" x="506.5" y="442">UNICEF</text><text class="t" x="506.5" y="445.8" textLength="72" lengthAdjust="spacingAndGlyphs">Alto Comisionado para los Refugiados</text></g>
<g id="mb14"><rect class="l" x="392" y="449" width="53" height="6"/><path class="k" d="M392 449H445"/><text class="t" x="418.5" y="453.1" textLength="50" lengthAdjust="spacingAndGlyphs">Consejo de Administración Fiduciaria</text></g>
<g id="mb15"><rect class="l" x="398" y="462" width="45" height="6"/><text class="t" x="420.5" y="466.1" textLength="41" lengthAdjust="spacingAndGlyphs">Territorios en fideicomiso</text></g>
<g id="mb16"><rect class="l" x="448" y="462" width="35" height="6"/><path class="k" d="M448 462V468M483 462V468"/><text class="t" x="465.5" y="466.1" textLength="30" lengthAdjust="spacingAndGlyphs">Palestina y Corea</text></g>
<g id="mb17"><rect class="l" x="492" y="461" width="58" height="7"/><path class="k" d="M492 461H550"/><text class="t" x="521" y="465.6" textLength="54" lengthAdjust="spacingAndGlyphs">Descolonización supervisada</text></g>
<g id="mb18"><rect class="l" x="392" y="480" width="18" height="6"/><text class="t" x="401" y="484.1" textLength="13" lengthAdjust="spacingAndGlyphs">Límites</text></g>
<g id="mb19"><rect class="l" x="430" y="473" width="80" height="7"/><text class="t" x="470" y="477.6" textLength="76" lengthAdjust="spacingAndGlyphs">Parálisis por el enfrentamiento entre bloques</text></g>
<g id="mb20"><rect class="l" x="425" y="488" width="88" height="6"/><path class="k" d="M425 488H513"/><text class="t" x="469" y="492.1" textLength="84" lengthAdjust="spacingAndGlyphs">Uso del veto por las superpotencias en la Guerra Fría</text></g>
<g id="n-gf"><rect class="b" x="548" y="276" width="47" height="16"/><text class="bt" x="571.5" y="282.6">Inicio</text><text class="bt" x="571.5" y="288" textLength="40" lengthAdjust="spacingAndGlyphs">de la Guerra Fría</text></g>
<g id="cE"><rect class="c" x="633" y="155" width="20" height="7"/><text class="t" x="643" y="159.6" textLength="14" lengthAdjust="spacingAndGlyphs">Europa</text></g>
<g id="re1"><rect class="l" x="670" y="127" width="52" height="10"/><path class="k" d="M670 137V127H722"/><text class="t" x="696" y="131.3" textLength="48" lengthAdjust="spacingAndGlyphs">Telón de acero (Churchill,</text><text class="t" x="696" y="135.1" textLength="32" lengthAdjust="spacingAndGlyphs">Fulton, 1946)</text></g>
<g id="re2"><rect class="l" x="727" y="128" width="23" height="5"/><text class="t" x="738.5" y="131.6" textLength="16" lengthAdjust="spacingAndGlyphs">Discurso</text></g>
<g id="re3"><rect class="l" x="668" y="143" width="40" height="5.5"/><path class="k" d="M668 143H708"/><text class="t" x="688" y="146.9" textLength="34" lengthAdjust="spacingAndGlyphs">Doctrina Truman</text></g>
<g id="re4"><rect class="l" x="715" y="140" width="13" height="10"/><path class="k" d="M715 140V150"/><text class="t" x="721.5" y="144.3">1947</text><text class="t" x="721.5" y="148.1" textLength="11" lengthAdjust="spacingAndGlyphs">Grecia</text></g>
<g id="re5"><rect class="l" x="733" y="140" width="35" height="10"/><path class="k" d="M733 140V150"/><text class="t" x="750.5" y="144.3" textLength="28" lengthAdjust="spacingAndGlyphs">Contención del</text><text class="t" x="750.5" y="148.1">comunismo</text></g>
<g id="re6"><rect class="l" x="672" y="154" width="86" height="6"/><path class="k" d="M672 154H758V160"/><text class="t" x="715" y="158.1" textLength="82" lengthAdjust="spacingAndGlyphs">Democracias populares en Europa del Este (1945-1948)</text></g>
<g id="re-gp"><rect class="l" x="668" y="169" width="29" height="4.5"/><path class="k" d="M668 173.5H697"/><text class="t" x="682.5" y="172.4" textLength="26" lengthAdjust="spacingAndGlyphs">Golpe de Praga</text></g>
<g id="re7"><rect class="l" x="713" y="162" width="40" height="10"/><path class="k" d="M713 162V172"/><text class="t" x="733" y="166.3" textLength="30" lengthAdjust="spacingAndGlyphs">Checoslovaquia</text><text class="t" x="733" y="170.1">(1948)</text></g>
<g id="re8"><rect class="l" x="713" y="175" width="54" height="11"/><path class="k" d="M713 175H767V186"/><text class="t" x="740" y="179.8" textLength="48" lengthAdjust="spacingAndGlyphs">Fin de los gobiernos de</text><text class="t" x="740" y="183.6" textLength="44" lengthAdjust="spacingAndGlyphs">coalición en el Este</text></g>
<g id="re9"><rect class="l" x="667" y="189" width="75" height="6"/><path class="k" d="M667 189V195"/><text class="t" x="704.5" y="193.1" textLength="71" lengthAdjust="spacingAndGlyphs">Bloqueo de Berlín (1948-1949): puente aéreo</text></g>
<g id="re10"><rect class="l" x="655" y="207" width="48" height="5.5"/><text class="t" x="679" y="210.9" textLength="42" lengthAdjust="spacingAndGlyphs">Dos Alemanias (1949)</text></g>
<g id="re11"><rect class="l" x="707" y="198" width="55" height="6"/><text class="t" x="734.5" y="202.1" textLength="51" lengthAdjust="spacingAndGlyphs">República Federal de Alemania</text></g>
<g id="re12"><rect class="l" x="708" y="208" width="54" height="6"/><text class="t" x="735" y="212.1" textLength="51" lengthAdjust="spacingAndGlyphs">República Democrática Alemana</text></g>
<g id="re13"><rect class="l" x="702" y="217" width="31" height="6"/><text class="t" x="717.5" y="221.1" textLength="26" lengthAdjust="spacingAndGlyphs">Muro de Berlín</text></g>
<g id="re14"><rect class="l" x="737" y="217" width="21" height="6"/><path class="k" d="M737 223H758"/><text class="t" x="747.5" y="221.1">1961</text></g>
<g id="cA"><rect class="c" x="633" y="302" width="13" height="9"/><text class="t" x="639.5" y="305.8" textLength="11" lengthAdjust="spacingAndGlyphs">Zonas de</text><text class="t" x="639.5" y="309.6" textLength="11" lengthAdjust="spacingAndGlyphs">tensión</text></g>
<g id="ra1"><rect class="l" x="657" y="231" width="68" height="7"/><path class="k" d="M657 231V238M725 231V238"/><text class="t" x="691" y="235.6" textLength="62" lengthAdjust="spacingAndGlyphs">OTAN (1949): alianza occidental</text></g>
<g id="ra-fr"><text class="lb" x="732" y="235.8" textLength="11" lengthAdjust="spacingAndGlyphs">frente a</text></g>
<g id="ra2"><rect class="l" x="747" y="230" width="45" height="9"/><path class="k" d="M747 230H792V239"/><text class="t" x="769.5" y="233.8" textLength="36" lengthAdjust="spacingAndGlyphs">Pacto de Varsovia</text><text class="t" x="769.5" y="237.6">(1955)</text></g>
<g id="ra3"><rect class="l" x="658" y="244" width="77" height="7"/><text class="t" x="696.5" y="248.6" textLength="73" lengthAdjust="spacingAndGlyphs">Carrera de armamentos y amenaza nuclear</text></g>
<g id="ra4"><rect class="l" x="663" y="256" width="69" height="6"/><path class="k" d="M732 256V262"/><text class="t" x="697.5" y="260.1" textLength="62" lengthAdjust="spacingAndGlyphs">Bomba atómica soviética (1949)</text></g>
<g id="ra5"><rect class="l" x="667" y="268" width="40" height="5.5"/><path class="k" d="M707 268V273.5"/><text class="t" x="687" y="271.9" textLength="36" lengthAdjust="spacingAndGlyphs">Espionaje y propaganda</text></g>
<g id="ra6"><rect class="l" x="668" y="280" width="25" height="6"/><path class="k" d="M668 286H693V280"/><text class="t" x="680.5" y="284.1">Asia</text></g>
<g id="ra7"><rect class="l" x="700" y="280" width="50" height="10"/><text class="t" x="725" y="284.3" textLength="45" lengthAdjust="spacingAndGlyphs">Revolución china (1949):</text><text class="t" x="725" y="288.1">Mao Zedong</text></g>
<g id="ra8"><rect class="l" x="765" y="262" width="33" height="9"/><path class="k" d="M798 262V271"/><text class="t" x="781.5" y="265.8">República</text><text class="t" x="781.5" y="269.6" textLength="26" lengthAdjust="spacingAndGlyphs">Popular China</text></g>
<g id="ra9"><rect class="l" x="775" y="278" width="57" height="15"/><path class="k" d="M775 278H832V293"/><text class="t" x="803.5" y="282.2" textLength="30" lengthAdjust="spacingAndGlyphs">Guerra de Corea</text><text class="t" x="803.5" y="286" textLength="52" lengthAdjust="spacingAndGlyphs">(1950-1953): intervención</text><text class="t" x="803.5" y="289.8" textLength="42" lengthAdjust="spacingAndGlyphs">de la ONU y de China</text></g>
<g id="ra10"><rect class="l" x="767" y="296" width="28" height="6"/><text class="t" x="781" y="300.1" textLength="22" lengthAdjust="spacingAndGlyphs">Paralelo 38</text></g>
<g id="ra11"><rect class="l" x="670" y="310" width="70" height="10"/><path class="k" d="M740 310V320"/><text class="t" x="705" y="314.3" textLength="56" lengthAdjust="spacingAndGlyphs">Descolonización de la India</text><text class="t" x="705" y="318.1" textLength="62" lengthAdjust="spacingAndGlyphs">y del Sudeste asiático (1947-1954)</text></g>
<g id="ra12"><rect class="l" x="745" y="307" width="82" height="16"/><path class="k" d="M745 323V307H827V323"/><text class="t" x="766" y="311.5" textLength="36" lengthAdjust="spacingAndGlyphs">Independencia de la</text><text class="t" x="766" y="315.3" textLength="32" lengthAdjust="spacingAndGlyphs">India y Pakistán</text><text class="t" x="766" y="319.1">(1947)</text><text class="t" x="806" y="313.3">Indonesia y</text><text class="t" x="806" y="317.1">Filipinas</text></g>
<g id="ra13"><rect class="l" x="673" y="327" width="24" height="6"/><path class="k" d="M673 327V333"/><text class="t" x="685" y="331.1" textLength="18" lengthAdjust="spacingAndGlyphs">Indochina</text></g>
<g id="ra14"><rect class="l" x="707" y="324" width="81" height="10"/><path class="k" d="M707 324V334"/><text class="t" x="747.5" y="328.3" textLength="74" lengthAdjust="spacingAndGlyphs">Guerra contra Francia (1946-1954):</text><text class="t" x="747.5" y="332.1" textLength="30" lengthAdjust="spacingAndGlyphs">Dien Bien Phu</text></g>
<g id="ra15"><rect class="l" x="795" y="327" width="35" height="6"/><text class="t" x="812.5" y="331.1" textLength="32" lengthAdjust="spacingAndGlyphs">Acuerdos de Ginebra</text></g>
<g id="ra16"><rect class="l" x="672" y="340" width="51" height="6"/><path class="k" d="M672 340H723"/><text class="t" x="697.5" y="344.1" textLength="47" lengthAdjust="spacingAndGlyphs">Japón ocupado por EEUU</text></g>
<g id="ra17"><rect class="l" x="728" y="340" width="35" height="6"/><text class="t" x="745.5" y="344.1" textLength="32" lengthAdjust="spacingAndGlyphs">Constitución de 1947</text></g>
<g id="ra18"><rect class="l" x="668" y="350" width="35" height="10"/><text class="t" x="685.5" y="354.3" textLength="28" lengthAdjust="spacingAndGlyphs">Tratado de San</text><text class="t" x="685.5" y="358.1" textLength="30" lengthAdjust="spacingAndGlyphs">Francisco (1951)</text></g>
<g id="ra19"><rect class="l" x="708" y="350" width="70" height="6"/><path class="k" d="M708 350V356"/><text class="t" x="743" y="354.1" textLength="62" lengthAdjust="spacingAndGlyphs">Aliado de EEUU en el Pacífico</text></g>
<g id="ra20"><rect class="l" x="662" y="368" width="56" height="6"/><text class="t" x="690" y="372.1" textLength="50" lengthAdjust="spacingAndGlyphs">Oriente Próximo: Israel</text></g>
<g id="ra21"><rect class="l" x="735" y="360" width="55" height="6"/><path class="k" d="M735 360H790V366"/><text class="t" x="762.5" y="364.1" textLength="52" lengthAdjust="spacingAndGlyphs">Creación del Estado de Israel (1948)</text></g>
<g id="ra22"><rect class="l" x="737" y="371" width="23" height="6"/><path class="k" d="M760 371V377"/><text class="t" x="748.5" y="375.1" textLength="13" lengthAdjust="spacingAndGlyphs">Guerra</text></g>
<g id="ra23"><rect class="l" x="728" y="379" width="42" height="11"/><text class="t" x="749" y="383.8" textLength="28" lengthAdjust="spacingAndGlyphs">Primera guerra</text><text class="t" x="749" y="387.6" textLength="26" lengthAdjust="spacingAndGlyphs">árabe-israelí</text></g>
<g id="ra24"><rect class="l" x="775" y="379" width="30" height="9"/><text class="t" x="790" y="382.8">Refugiados</text><text class="t" x="790" y="386.6">palestinos</text></g>
<g id="cC"><rect class="c" x="630" y="415" width="53" height="7"/><text class="t" x="656.5" y="419.6" textLength="50" lengthAdjust="spacingAndGlyphs">Consecuencias de la Guerra Fría</text></g>
<g id="rc1"><rect class="l" x="703" y="397" width="70" height="11"/><path class="k" d="M703 397H773V408"/><text class="t" x="738" y="401.8" textLength="66" lengthAdjust="spacingAndGlyphs">Mundo bipolar: división en dos bloques</text><text class="t" x="738" y="405.6" textLength="60" lengthAdjust="spacingAndGlyphs">enfrentados ideológicamente</text></g>
<g id="rc2"><rect class="l" x="698" y="415" width="57" height="6"/><path class="k" d="M698 421H755V415"/><text class="t" x="726.5" y="419.1" textLength="53" lengthAdjust="spacingAndGlyphs">Conflictos indirectos y locales</text></g>
<g id="rc3"><rect class="l" x="765" y="416" width="40" height="5.5"/><text class="t" x="785" y="419.9" textLength="32" lengthAdjust="spacingAndGlyphs">Tercer Mundo</text></g>
<g id="rc4"><rect class="l" x="703" y="428" width="57" height="6"/><path class="k" d="M703 428V434"/><text class="t" x="731.5" y="432.1" textLength="50" lengthAdjust="spacingAndGlyphs">Equilibrio del terror</text></g>
<g id="rc5"><rect class="l" x="682" y="440" width="33" height="5"/><text class="t" x="698.5" y="443.6" textLength="28" lengthAdjust="spacingAndGlyphs">Coexistencia</text></g>
<g id="rc6"><rect class="l" x="718" y="440" width="69" height="6"/><path class="k" d="M718 440V446"/><text class="t" x="752.5" y="444.1" textLength="65" lengthAdjust="spacingAndGlyphs">Distensión tras la muerte de Stalin (1953)</text></g>
</svg>
